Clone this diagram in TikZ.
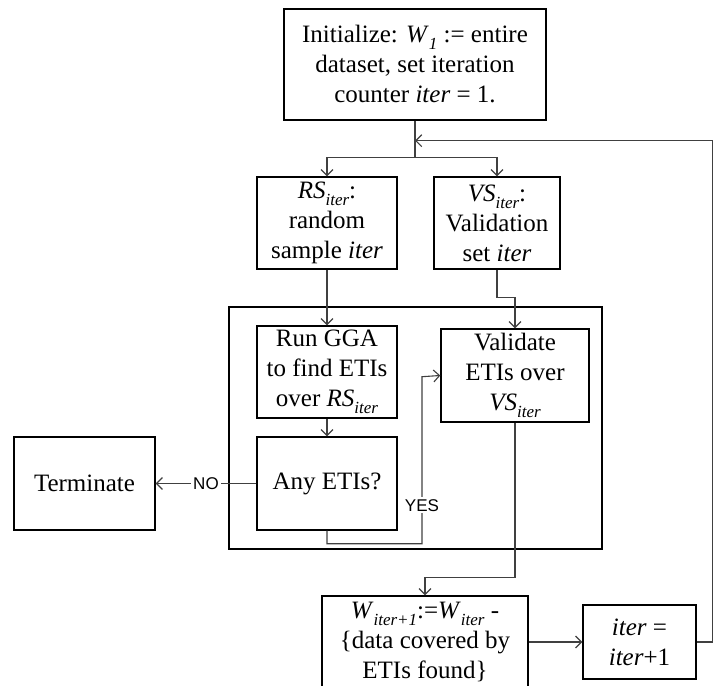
\documentclass[tikz,border=0pt]{standalone}
\usepackage{fontspec}
\setmainfont{Liberation Serif}
\newfontfamily\labelfont{Liberation Sans}
\usetikzlibrary{calc, positioning, arrows.meta}
\newcommand{\isub}[2]{\textit{#1}\raisebox{-3.5pt}{\fontsize{8.5}{9}\selectfont\itshape #2}}

\begin{document}
\begin{tikzpicture}[x=0.5pt, y=-0.5pt,
  box/.style={draw, line width=0.7pt, inner sep=0pt, align=center,
    font=\fontsize{12.5}{15}\selectfont},
  flow/.style={draw=black!75, line width=0.55pt,
    -{Straight Barb[length=3pt,width=6pt]}},
  lbl/.style={fill=white, inner sep=1pt, font=\labelfont\fontsize{8.5}{9}\selectfont}]
  \useasboundingbox (0,0) rectangle (720,686);

  \node[draw, line width=0.7pt, minimum width=186.5pt, minimum height=121pt] (frame) at (415.5,428) {};

  \node[box, minimum width=131pt, minimum height=55.5pt] (init) at (415,64.5)
    {Initialize: \isub{W}{1} := entire\\dataset, set iteration\\counter \textit{iter} = 1.};
  \node[box, minimum width=70pt, minimum height=46pt] (rs) at (327,223)
    {\isub{RS}{iter}:\\random\\sample \textit{iter}};
  \node[box, minimum width=63pt, minimum height=46pt] (vs) at (497,223)
    {\isub{VS}{iter}:\\Validation\\set \textit{iter}};
  \node[box, minimum width=70pt, minimum height=46pt] (gga) at (327,372)
    {Run GGA\\to find ETIs\\over \isub{RS}{iter}};
  \node[box, minimum width=70pt, minimum height=46.5pt] (any) at (327,483.5) {Any ETIs?};
  \node[box, minimum width=70.5pt, minimum height=46.5pt] (term) at (84.5,483.5) {Terminate};
  \node[box, minimum width=74pt, minimum height=46.5pt] (valid) at (515,375.5)
    {Validate\\ETIs over\\\isub{VS}{iter}};
  \node[box, minimum width=103pt, minimum height=46pt] (upd) at (425,642)
    {\isub{W}{iter+1}:=\isub{W}{iter} -\\\{data covered by\\ETIs found\}};
  \node[box, minimum width=56.5pt, minimum height=37pt] (incr) at (639.5,642)
    {\textit{iter} =\\\textit{iter}+1};

  \coordinate (split) at ($(init.south)+(0,37)$);
  \coordinate (merge) at ($(init.south)+(0,20)$);

  \draw[flow] (init.south) -- (split) -| (rs.north);
  \draw[flow] (split) -| (vs.north);
  \foreach \a/\b in {rs/gga, gga/any, upd/incr}
    \draw[flow] (\a) -- (\b);
  \draw[flow] (vs.south) -- ++(0,28) -| (valid.north);
  \draw[flow] (valid.south) -- ++(0,155) -| (upd.north);
  \draw[flow] (any.west) -- node[lbl] {NO} (term.east);
  \draw[flow] (any.south) -- ++(0,13) -- ++(95,0)
    -- node[lbl, pos=0.23] {YES} ++(0,-167) -- (valid.west);
  \draw[flow] (incr.east) -- ++(16,0) |- (merge);
\end{tikzpicture}
\end{document}
